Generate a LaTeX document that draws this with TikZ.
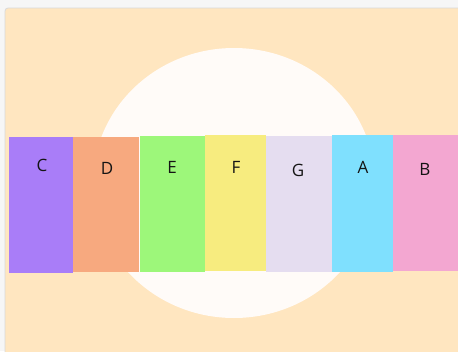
\documentclass[tikz,border=0pt]{standalone}
\usepackage{fontspec}
\setmainfont{Open Sans}
\definecolor{outerbg}{HTML}{F6F6F6}
\definecolor{panel}{HTML}{FFE6C0}
\definecolor{disc}{HTML}{FFFBF8}
\definecolor{cC}{HTML}{A97DF8}
\definecolor{cD}{HTML}{F7A97F}
\definecolor{cE}{HTML}{9DF77A}
\definecolor{cF}{HTML}{F7EC7F}
\definecolor{cG}{HTML}{E5DDF0}
\definecolor{cA}{HTML}{7FE0FE}
\definecolor{cB}{HTML}{F3A7D1}
\tikzset{
  lbl/.style={font=\fontsize{17}{17}\selectfont, text=black!92, inner sep=0pt}
}
\begin{document}
\begin{tikzpicture}[x=1pt,y=-1pt]
\useasboundingbox (0,0) rectangle (458,351);
\fill[outerbg] (0,0) rectangle (458,351);
\fill[panel, rounded corners=3pt] (5,8) rectangle (470,360);
\draw[black!15, line width=0.8pt, rounded corners=3pt] (5,360) -- (5,8) -- (470,8);
\fill[disc] (234,183) ellipse[x radius=141, y radius=135];
\fill[cC] (9,137) rectangle (73,273);
\fill[cD] (73,137) rectangle (139,272);
\fill[cE] (140,136) rectangle (205,272);
\fill[cF] (205,135) rectangle (266,271);
\fill[cG] (266,136) rectangle (332,272);
\fill[cA] (332,135) rectangle (393,272);
\fill[cB] (393,135) rectangle (458,271);
\node[lbl] (lC) at (42,165) {C};
\node[lbl] (lD) at (107,168) {D};
\node[lbl] (lE) at (172,167) {E};
\node[lbl] (lF) at (236,167) {F};
\node[lbl] (lG) at (298,170) {G};
\node[lbl] (lA) at (363,167) {A};
\node[lbl] (lB) at (425,169) {B};
\end{tikzpicture}
\end{document}
